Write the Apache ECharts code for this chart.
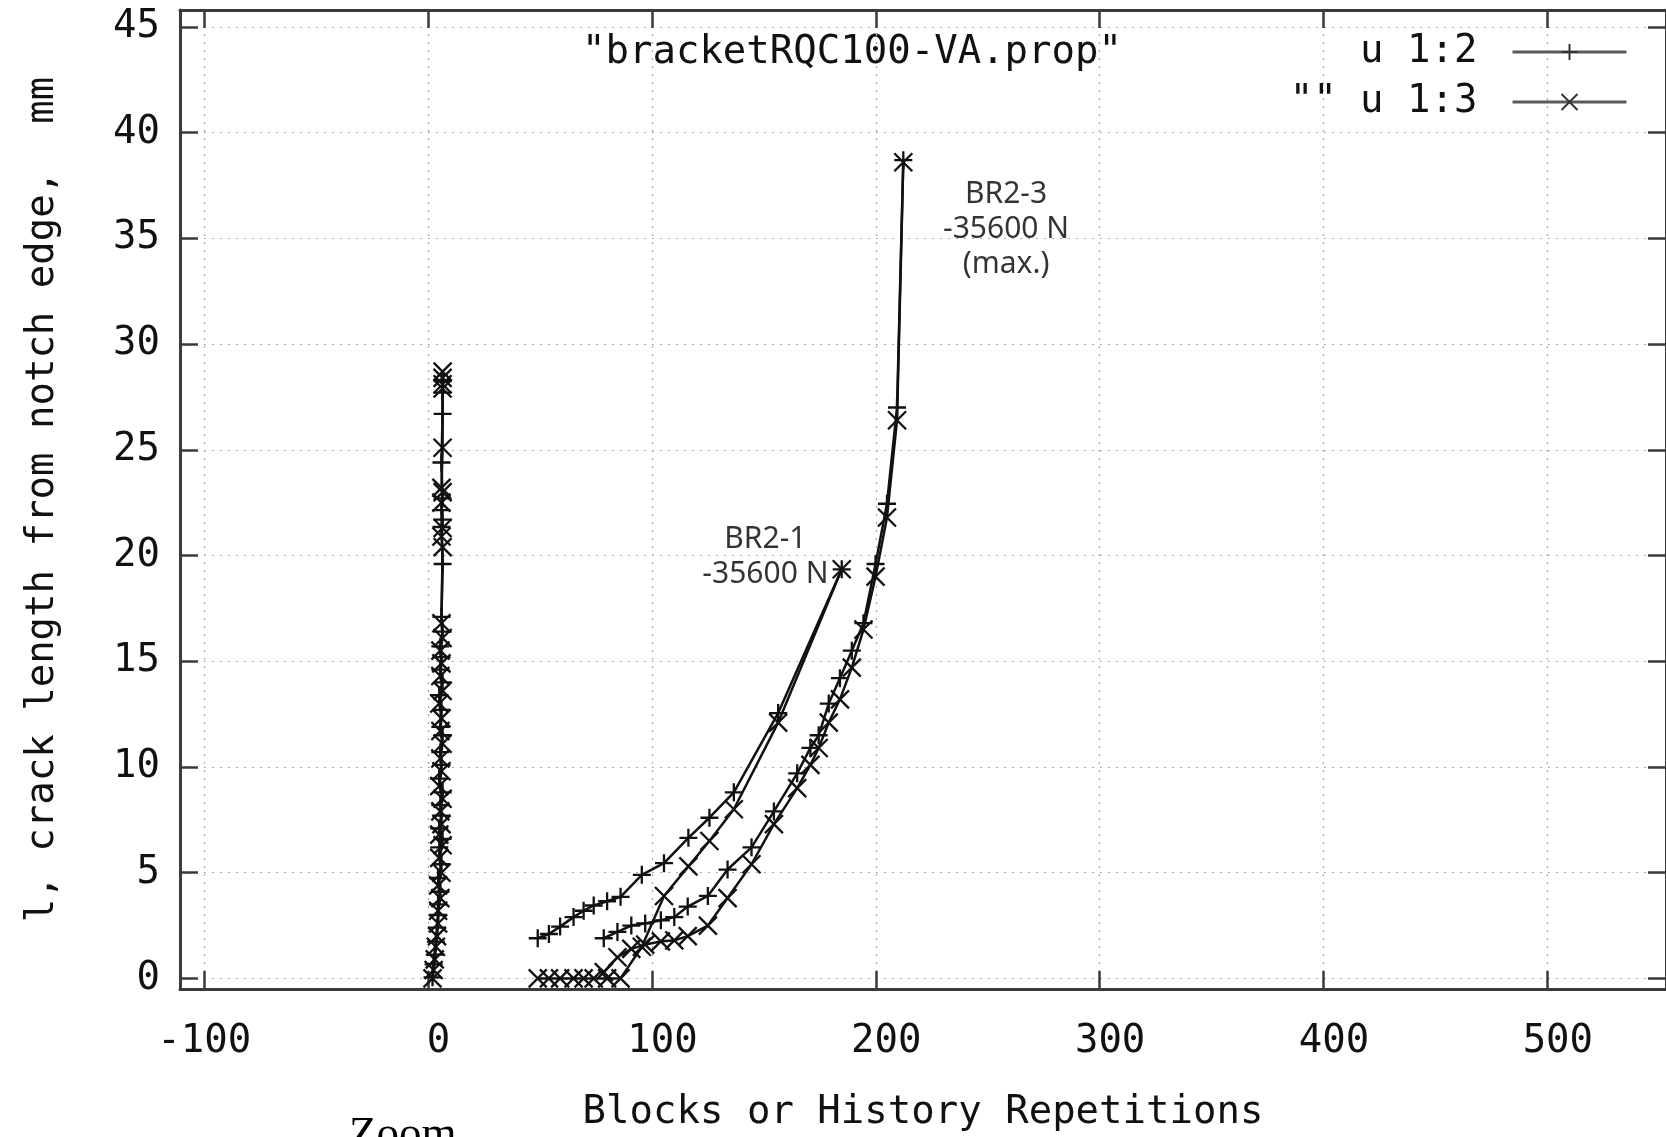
<!DOCTYPE html>
<html><head><meta charset="utf-8">
<script src="https://cdn.jsdelivr.net/npm/echarts@6/dist/echarts.min.js"></script>
<style>html,body{margin:0;padding:0;background:#fff}#c{width:1666px;height:1137px}</style>
</head><body><div id="c"></div>
<script>
// ---------------- data ----------------
const seriesNames = ['u 1:2', '"" u 1:3'];

// specimen near zero blocks
const blocksA   = [2.0, 2.5, 3.0, 3.5, 4.0, 4.5, 4.5, 5.5, 4.5, 6.0, 5.0, 6.5, 5.0, 6.0, 5.5, 6.5, 5.0, 6.0, 5.5, 6.5, 5.5, 6.0, 5.0, 6.5, 5.5, 6.0, 5.5, 6.5, 6.0, 6.5, 6.0, 6.5, 6.0, 6.5, 6.0, 6.5, 6.5, 6.5, 6.5, 6.5];
const lenA_col2 = [0.05, 0.66, 1.13, 1.74, 2.4, 3.0, 3.5, 4.1, 4.75, 5.4, 6.2, 6.6, 7.1, 7.7, 8.2, 8.8, 9.45, 10.1, 10.7, 11.5, 11.9, 12.7, 13.4, 14.0, 14.6, 15.2, 15.7, 16.4, 17.1, 19.6, 21.35, 21.7, 22.15, 22.7, 24.4, 26.7, 27.7, 28.25, 28.3, 28.3];
const lenA_col3 = [0.0, 0.4, 0.9, 1.5, 2.0, 2.6, 3.2, 3.8, 4.4, 5.0, 5.7, 6.3, 6.8, 7.3, 7.9, 8.5, 9.1, 9.8, 10.4, 11.1, 11.7, 12.3, 13.0, 13.6, 14.3, 14.9, 15.5, 16.1, 16.8, 20.4, 20.9, 21.3, 22.5, 23.0, 23.2, 25.1, 27.9, 28.1, 28.4, 28.7];

// specimen BR2-1
const blocksBR21   = [49, 54, 59, 65, 69.5, 74, 80, 86, 95.5, 105.4, 116.3, 125.7, 136.6, 156.4, 184.8];
const lenBR21_col2 = [1.9, 2.1, 2.45, 2.9, 3.2, 3.45, 3.65, 3.86, 4.9, 5.45, 6.65, 7.6, 8.8, 12.55, 19.35];
const lenBR21_col3 = [0, 0, 0, 0, 0, 0, 0, 0, 1.5, 3.9, 5.3, 6.5, 8.0, 12.1, 19.35];

// specimen BR2-3
const blocksBR23   = [78.5, 84.6, 90.8, 97, 104, 110, 116, 125, 133.8, 144.5, 154.5, 164.9, 170.8, 174.5, 179, 184, 189.3, 194.5, 199.9, 205, 209.5, 212.3];
const lenBR23_col2 = [1.9, 2.2, 2.5, 2.6, 2.75, 2.9, 3.4, 3.9, 5.15, 6.2, 7.9, 9.7, 10.9, 11.5, 13.0, 14.2, 15.5, 16.8, 19.6, 22.45, 27.0, 38.7];
const lenBR23_col3 = [0.3, 1.0, 1.4, 1.6, 1.75, 1.8, 2.0, 2.5, 3.8, 5.4, 7.3, 9.0, 10.1, 10.9, 12.1, 13.2, 14.7, 16.5, 19.0, 21.8, 26.4, 38.6];

// annotations (data coordinates of the text centres)
const noteX    = [150.7, 258.2];
const noteY    = [19.95, 35.4];
const noteText = ['BR2-1\n-35600 N', 'BR2-3\n-35600 N\n(max.)'];

// axes
const xRange = [-110.8, 553];
const yRange = [-0.5, 45.8];
const xTitle = 'Blocks or History Repetitions';
const yTitle = 'l, crack length from notch edge,  mm';
const fileTitle = '"bracketRQC100-VA.prop"';

// ---------------- chart ----------------
const MONO = 'DejaVu Sans Mono';
const INK = '#111';
const BORDER = '#3a3a3a';
const PLUS = 'path://M0,10L20,10M10,0L10,20';
const CROSS = 'path://M0,0L20,20M20,0L0,20';
const pairs = (xs, ys) => xs.map((x, i) => [x, ys[i]]);

function curve(name, xs, ys, sym) {
  return {
    type: 'line', name, data: pairs(xs, ys),
    symbol: sym, symbolSize: 18, showAllSymbol: true,
    lineStyle: { color: INK, width: 2.5 },
    itemStyle: { color: INK, borderColor: INK, borderWidth: 2.3 },
    emphasis: { disabled: true }, z: 3
  };
}

const labelFont = { fontFamily: MONO, fontSize: 39, color: INK };
const gridLine = { show: true, lineStyle: { color: '#a8a8a8', width: 1.2, type: [2, 6] } };
function axisBase(extra) {
  return Object.assign({
    type: 'value',
    axisLine: { show: true, onZero: false, lineStyle: { color: BORDER, width: 3 } },
    axisTick: { show: true, inside: true, length: 18, lineStyle: { color: BORDER, width: 2.5 } }
  }, extra);
}

const chart = echarts.init(document.getElementById('c'), null, { renderer: 'canvas' });
chart.setOption({
  animation: false,
  backgroundColor: '#fff',
  grid: { left: 180, top: 10, right: -8, bottom: 142, containLabel: false },
  xAxis: [
    axisBase({ position: 'bottom', min: xRange[0], max: xRange[1], splitNumber: 7,
      axisLabel: Object.assign({ margin: 33, showMinLabel: false, showMaxLabel: false,
        formatter: v => (v < 0 ? '{n|' : '{p|') + v + '}',
        rich: { n: labelFont, p: Object.assign({ padding: [0, 0, 0, 21] }, labelFont) } }, labelFont),
      splitLine: gridLine,
      name: xTitle, nameLocation: 'middle', nameGap: 104, nameTextStyle: labelFont }),
    axisBase({ position: 'top', min: xRange[0], max: xRange[1], splitNumber: 7,
      axisLabel: { show: false }, splitLine: { show: false } })
  ],
  yAxis: [
    axisBase({ position: 'left', min: yRange[0], max: yRange[1], splitNumber: 9,
      axisLabel: Object.assign({ margin: 20, showMinLabel: false, showMaxLabel: false }, labelFont),
      splitLine: gridLine,
      name: yTitle, nameLocation: 'middle', nameGap: 118, nameRotate: 90, nameTextStyle: labelFont }),
    axisBase({ position: 'right', min: yRange[0], max: yRange[1], splitNumber: 9,
      axisLabel: { show: false }, splitLine: { show: false } })
  ],
  legend: {
    data: seriesNames, orient: 'vertical', align: 'right', right: 38, top: 32, padding: 0,
    itemWidth: 114, itemHeight: 20, itemGap: 10, selectedMode: false,
    textStyle: { fontFamily: MONO, fontSize: 39, color: INK, lineHeight: 40, padding: [0, 30, 0, 0] },
    lineStyle: { color: '#5a5a5a', width: 3 },
    itemStyle: { color: '#333', borderColor: '#333', borderWidth: 2 }
  },
  graphic: [
    { type: 'text', x: 852, y: 53, silent: true,
      style: { text: fileTitle, align: 'center', verticalAlign: 'middle',
        font: '39px "DejaVu Sans Mono"', fill: INK } },
    { type: 'text', x: 349, y: 1135, silent: true,
      style: { text: 'Zoom', align: 'left', verticalAlign: 'middle',
        font: '45px "Liberation Serif"', fill: '#000' } }
  ],
  series: [
    curve(seriesNames[0], blocksA, lenA_col2, PLUS),
    curve(seriesNames[0], blocksBR21, lenBR21_col2, PLUS),
    curve(seriesNames[0], blocksBR23, lenBR23_col2, PLUS),
    curve(seriesNames[1], blocksA, lenA_col3, CROSS),
    curve(seriesNames[1], blocksBR21, lenBR21_col3, CROSS),
    curve(seriesNames[1], blocksBR23, lenBR23_col3, CROSS),
    {
      type: 'scatter', name: 'notes', data: pairs(noteX, noteY), symbolSize: 0, silent: true,
      label: { show: true, position: 'inside', formatter: p => noteText[p.dataIndex],
        fontFamily: 'Noto Sans', fontSize: 30, lineHeight: 35, color: '#000', align: 'center' },
      z: 4
    }
  ]
});
</script></body></html>
